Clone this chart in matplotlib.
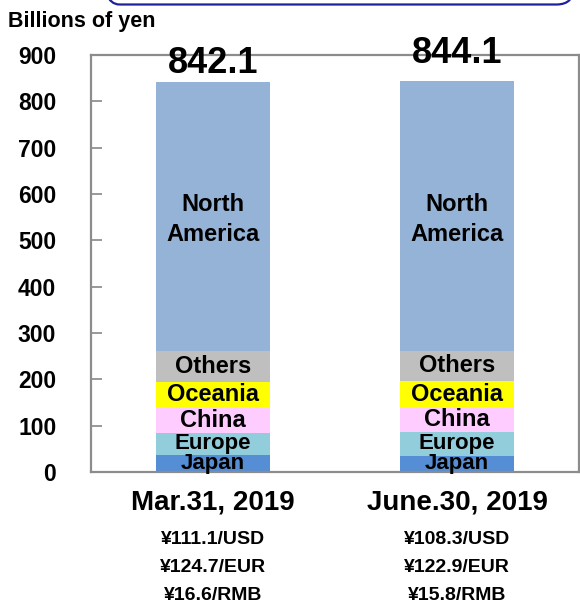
import matplotlib
matplotlib.use('Agg')
import matplotlib.pyplot as plt
from matplotlib.patches import FancyBboxPatch
import numpy as np

FONT = ['Liberation Sans Narrow', 'Liberation Sans', 'DejaVu Sans']
plt.rcParams['font.family'] = FONT
plt.rcParams['font.weight'] = 'bold'

dates = ['Mar.31, 2019', 'June.30, 2019']
rates = [['¥111.1/USD', '¥124.7/EUR', '¥16.6/RMB'],
         ['¥108.3/USD', '¥122.9/EUR', '¥15.8/RMB']]
regions = ['Japan', 'Europe', 'China', 'Oceania', 'Others', 'North\nAmerica']
japan = [37, 35]
europe = [48, 51]
china = [54, 53]
oceania = [56, 58]
others = [67, 65]
north_america = [580.1, 582.1]
totals = [842.1, 844.1]
colors = ['#558ED5', '#92CDDC', '#FFCCFF', '#FFFF00', '#BFBFBF', '#95B3D7']

fig = plt.figure(figsize=(5.8, 6.05), dpi=100)
ax = fig.add_axes([91 / 580, 133 / 605, 488 / 580, 417 / 605])

x = np.array([0.5, 1.5])
series = [japan, europe, china, oceania, others, north_america]
bottom = np.zeros(2)
label_y = []
for vals, col in zip(series, colors):
    vals = np.array(vals, dtype=float)
    ax.bar(x, vals, bottom=bottom, width=0.467, color=col, edgecolor='none', zorder=2)
    label_y.append(bottom + vals / 2)
    bottom = bottom + vals

for name, ys in zip(regions, label_y):
    for xi, yi in zip(x, ys):
        size = 17
        if name.startswith('North'):
            yi = 545
        if name in ('Japan', 'Europe'):
            size = 16
        ax.text(xi, yi, name, ha='center', va='center', fontsize=size,
                fontweight='bold', linespacing=1.35, zorder=3)

# totals above bars
for xi, t, dy in zip(x, totals, [881, 903]):
    ax.text(xi, dy, f'{t}', ha='center', va='center', fontsize=26,
            fontweight='bold', zorder=4, clip_on=False)

ax.set_xlim(0, 2)
ax.set_ylim(0, 900)
ax.set_yticks(range(0, 901, 100))
ax.set_xticks([])
ax.tick_params(axis='y', direction='in', length=8, width=1.2, color='#888888',
               labelsize=16.5, pad=25)
for lbl in ax.get_yticklabels():
    lbl.set_fontweight('bold')
for sp in ax.spines.values():
    sp.set_color('#8c8c8c')
    sp.set_linewidth(1.6)

# category labels and exchange rates
for xi, d, rr in zip(x, dates, rates):
    xf = (91 + xi / 2 * 488) / 580
    fig.text(xf, 1 - 503 / 605, d, ha='center', va='center', fontsize=20, fontweight='bold')
    for k, r in enumerate(rr):
        fig.text(xf, 1 - (540 + 27.5 * k) / 605, r, ha='center', va='center',
                 fontsize=14, fontweight='bold')

fig.text(8 / 580, 1 - 22 / 605, 'Billions of yen', ha='left', va='center',
         fontsize=15.5, fontweight='bold')

# rounded title frame cut off at the top
box = FancyBboxPatch((102 / 580, 1 - 4.5 / 605), 472 / 580, 0.1,
                     boxstyle='round,pad=0,rounding_size=0.03',
                     transform=fig.transFigure, facecolor='none',
                     edgecolor='#1f1f9e', linewidth=1.6, clip_on=False)
fig.patches.append(box)

fig.savefig('out.png', dpi=100)
